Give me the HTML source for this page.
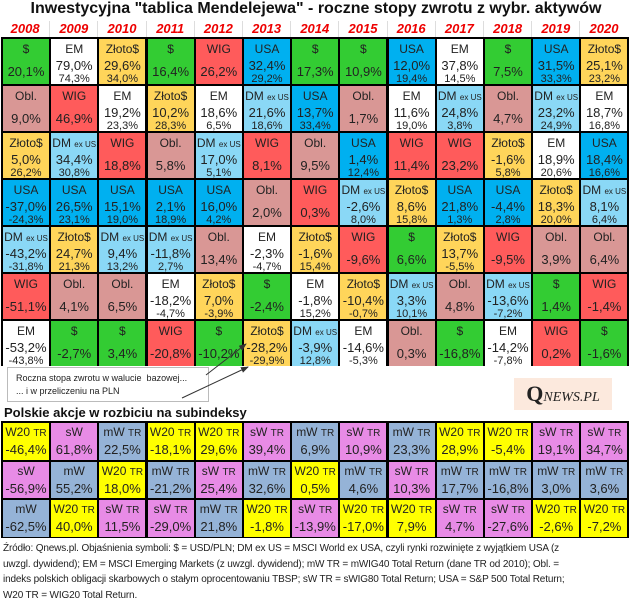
<!DOCTYPE html>
<html><head><meta charset="utf-8">
<style>
body{margin:0;background:#fff;width:632px;height:600px;overflow:hidden;position:relative;font-family:"Liberation Sans",Arial,sans-serif;}
.abs{position:absolute;}
.cell{position:absolute;overflow:hidden;text-align:center;color:#222;}
.cell div{position:absolute;left:0;right:0;white-space:nowrap;}
.sm{font-size:8px;}
</style></head><body>
<div class="abs" style="left:0;width:632px;top:0px;text-align:center;font-weight:bold;font-size:16px;color:#111;">Inwestycyjna "tablica Mendelejewa" - roczne stopy zwrotu z wybr. aktywów</div>
<div id="years"></div>
<div id="main" class="abs" style="left:1px;top:37px;width:628px;height:329px;background:#000;"></div>
<div class="abs" style="left:7px;top:367px;width:202px;height:35px;border:1px solid #bbb;font-size:9px;color:#222;line-height:13px;padding:4px 0 0 8px;box-sizing:border-box;">Roczna stopa zwrotu w walucie&nbsp; bazowej...<br>... i w przeliczeniu na PLN</div>
<svg class="abs" style="left:0;top:0" width="632" height="600">
<defs><marker id="ar" markerWidth="8" markerHeight="6" refX="7" refY="3" orient="auto"><path d="M0,0L8,3L0,6z" fill="#333"/></marker></defs>
<line x1="206" y1="375" x2="246" y2="344" stroke="#333" stroke-width="1" marker-end="url(#ar)"/>
<line x1="182" y1="398" x2="248" y2="367" stroke="#333" stroke-width="1" marker-end="url(#ar)"/>
</svg>
<div class="abs" style="left:514px;top:378px;width:98px;height:32px;background:#fce9dd;text-align:center;line-height:32px;color:#222;font-family:'Liberation Serif',serif;"><span style="font-size:22px;font-weight:bold;">Q</span><span style="font-size:14px;font-style:italic;">NEWS.PL</span></div>
<div class="abs" style="left:4px;top:405px;font-weight:bold;font-size:13px;color:#111;">Polskie akcje w rozbiciu na subindeksy</div>
<div id="sub" class="abs" style="left:1px;top:421px;width:628px;height:117px;background:#000;"></div>
<div class="abs" style="left:3px;top:541px;width:629px;font-size:10px;line-height:15.5px;color:#222;white-space:nowrap;letter-spacing:-0.15px;">Źródło: Qnews.pl. Objaśnienia symboli: $ = USD/PLN; DM ex US = MSCI World ex USA, czyli rynki rozwinięte z wyjątkiem USA (z<br>uwzgl. dywidend); EM = MSCI Emerging Markets (z uwzgl. dywidend); mW TR = mWIG40 Total Return (dane TR od 2010); Obl. =<br>indeks polskich obligacji skarbowych o stałym oprocentowaniu TBSP; sW TR = sWIG80 Total Return; USA = S&amp;P 500 Total Return;<br>W20 TR = WIG20 Total Return.</div>
<script>
const years=["2008","2009","2010","2011","2012","2013","2014","2015","2016","2017","2018","2019","2020"];
const labels=[
["$","Obl.","Złoto$","USA","DM","WIG","EM"],
["EM","WIG","DM","USA","Złoto$","Obl.","$"],
["Złoto$","EM","WIG","USA","DM","Obl.","$"],
["$","Złoto$","Obl.","USA","DM","EM","WIG"],
["WIG","EM","DM","USA","Obl.","Złoto$","$"],
["USA","DM","WIG","Obl.","EM","$","Złoto$"],
["$","USA","Obl.","WIG","Złoto$","EM","DM"],
["$","Obl.","USA","DM","WIG","Złoto$","EM"],
["USA","EM","WIG","Złoto$","$","DM","Obl."],
["EM","DM","WIG","USA","Złoto$","Obl.","$"],
["$","Obl.","Złoto$","USA","WIG","DM","EM"],
["USA","DM","EM","Złoto$","Obl.","$","WIG"],
["Złoto$","EM","USA","DM","Obl.","WIG","$"]];
const values=[
["20,1%","9,0%","5,0%","-37,0%","-43,2%","-51,1%","-53,2%"],
["79,0%","46,9%","34,4%","26,5%","24,7%","4,1%","-2,7%"],
["29,6%","19,2%","18,8%","15,1%","9,4%","6,5%","3,4%"],
["16,4%","10,2%","5,8%","2,1%","-11,8%","-18,2%","-20,8%"],
["26,2%","18,6%","17,0%","16,0%","13,4%","7,0%","-10,2%"],
["32,4%","21,6%","8,1%","2,0%","-2,3%","-2,4%","-28,2%"],
["17,3%","13,7%","9,5%","0,3%","-1,6%","-1,8%","-3,9%"],
["10,9%","1,7%","1,4%","-2,6%","-9,6%","-10,4%","-14,6%"],
["12,0%","11,6%","11,4%","8,6%","6,6%","3,3%","0,3%"],
["37,8%","24,8%","23,2%","21,8%","13,7%","4,8%","-16,8%"],
["7,5%","4,7%","-1,6%","-4,4%","-9,5%","-13,6%","-14,2%"],
["31,5%","23,2%","18,9%","18,3%","3,9%","1,4%","0,2%"],
["25,1%","18,7%","18,4%","8,1%","6,4%","-1,4%","-1,6%"]];
const plnValues=[
["","","26,2%","-24,3%","-31,8%","","-43,8%"],
["74,3%","","30,8%","23,1%","21,3%","",""],
["34,0%","23,3%","","19,0%","13,2%","",""],
["","28,3%","","18,9%","2,7%","-4,7%",""],
["","6,5%","5,1%","4,2%","","-3,9%",""],
["29,2%","18,6%","","","-4,7%","","-29,9%"],
["","33,4%","","","15,4%","15,2%","12,8%"],
["","","12,4%","8,0%","","-0,7%","-5,3%"],
["19,4%","19,0%","","15,8%","","10,1%",""],
["14,5%","3,8%","","1,3%","-5,5%","",""],
["","","5,8%","2,8%","","-7,2%","-7,8%"],
["33,3%","24,9%","20,6%","20,0%","","",""],
["23,2%","16,8%","16,6%","6,4%","","",""]];
const subLabels=[
["W20 TR","sW","mW TR","W20 TR","W20 TR","sW TR","mW TR","sW TR","mW TR","W20 TR","W20 TR","sW TR","sW TR"],
["sW","mW","W20 TR","mW TR","sW TR","mW TR","W20 TR","mW TR","sW TR","mW TR","mW TR","mW TR","mW TR"],
["mW","W20 TR","sW TR","sW TR","mW TR","W20 TR","sW TR","W20 TR","W20 TR","sW TR","sW TR","W20 TR","W20 TR"]];
const subValues=[
["-46,4%","61,8%","22,5%","-18,1%","29,6%","39,4%","6,9%","10,9%","23,3%","28,9%","-5,4%","19,1%","34,7%"],
["-56,9%","55,2%","18,0%","-21,2%","25,4%","32,6%","0,5%","4,6%","10,3%","17,7%","-16,8%","3,0%","3,6%"],
["-62,5%","40,0%","11,5%","-29,0%","21,8%","-1,8%","-13,9%","-17,0%","7,9%","4,7%","-27,6%","-2,6%","-7,2%"]];
const colors={"$":"#33cc33","Obl.":"#d99795","Złoto$":"#ffd55a","USA":"#00b0f0","DM":"#8ad8f6","WIG":"#ff5b5b","EM":"#ffffff"};
const subColors={"W20":"#ffff00","sW":"#e88be6","mW":"#95b3d7"};
const pitchX=48.2;
const yr=document.getElementById('years');
years.forEach((y,i)=>{
  const d=document.createElement('div');
  d.className='abs';
  
  
  d.style.cssText=`left:${1+i*pitchX}px;top:21px;width:${pitchX}px;height:16px;text-align:center;color:#e00;font-weight:bold;font-style:italic;font-size:13px;line-height:16px;border-left:${i?1:0}px solid #ddd;box-sizing:border-box;`;
  d.textContent=y;
  yr.appendChild(d);
});
const main=document.getElementById('main');
for(let c=0;c<years.length;c++){
  for(let r=0;r<7;r++){
    const lab=labels[c][r],v=values[c][r],s=plnValues[c][r];
    const cell=document.createElement('div');
    cell.className='cell';
    
    
    cell.style.cssText=`left:${2+c*pitchX}px;top:${2+r*47}px;width:${pitchX-2.2}px;height:45px;background:${colors[lab]};`;
    const labHtml=lab==="DM"?'DM <span class="sm">ex US</span>':lab;
    let h=`<div style="top:3px;font-size:12px;">${labHtml}</div>`;
    if(s){h+=`<div style="top:19px;font-size:13px;">${v}</div><div style="top:34px;font-size:11px;">${s}</div>`;}
    else{h+=`<div style="top:25px;font-size:13px;">${v}</div>`;}
    cell.innerHTML=h;
    main.appendChild(cell);
  }
}
const sub=document.getElementById('sub');
for(let r=0;r<3;r++){
  for(let c=0;c<13;c++){
    const lab=subLabels[r][c];
    const key=lab.split(' ')[0];
    const cell=document.createElement('div');
    cell.className='cell';
    
    
    cell.style.cssText=`left:${2+c*pitchX}px;top:${2+r*38.5}px;width:${pitchX-2.2}px;height:36.5px;background:${subColors[key]};`;
    const parts=lab.split(' ');
    const labHtml=parts.length>1?parts[0]+' <span style="font-size:10px">'+parts[1]+'</span>':lab;
    cell.innerHTML=`<div style="top:2px;font-size:12px;">${labHtml}</div><div style="top:19px;font-size:13px;">${subValues[r][c]}</div>`;
    sub.appendChild(cell);
  }
}
</script>
</body></html>
